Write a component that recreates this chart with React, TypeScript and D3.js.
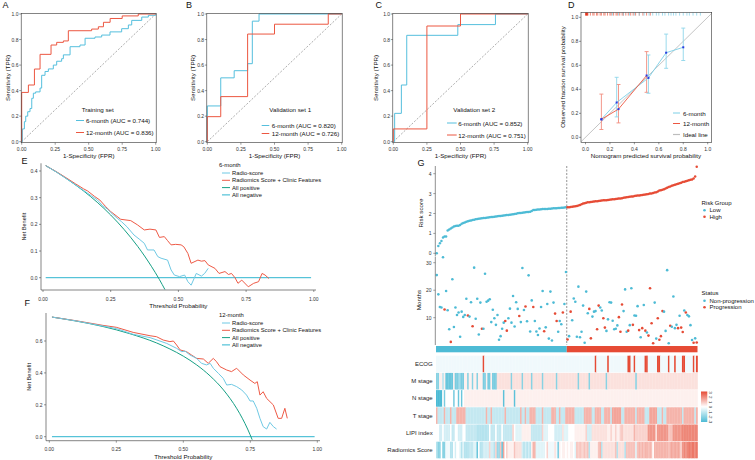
import React from "react";
import * as d3 from "d3";

const FONT = "'Liberation Sans', Arial, Helvetica, sans-serif";
const BLUE = "#4DBBD5";
const RED = "#E64B35";
const ROC6 = "#55BFDD";
const ROC12 = "#EC5741";

// ---------------- ROC data (FPR, TPR), step-after corners ----------------
const rocTicksX = [0, 0.25, 0.5, 0.75, 1];
const rocTicksY = [0, 0.2, 0.4, 0.6, 0.8, 1];

const rocTrain6 = [[0,0],[0.005,0.1],[0.02,0.157],[0.03,0.2],[0.045,0.235],[0.062,0.26],[0.075,0.34],[0.087,0.38],[0.104,0.39],[0.137,0.42],[0.149,0.52],[0.174,0.55],[0.199,0.57],[0.236,0.6],[0.261,0.63],[0.298,0.65],[0.311,0.68],[0.361,0.744],[0.435,0.757],[0.473,0.81],[0.547,0.82],[0.597,0.835],[0.659,0.86],[0.746,0.885],[0.796,0.914],[0.821,0.95],[0.896,0.976],[0.945,0.99],[1,1]];
const rocTrain12 = [[0,0],[0,0.386],[0.05,0.444],[0.095,0.569],[0.137,0.684],[0.219,0.757],[0.261,0.778],[0.311,0.789],[0.348,0.869],[0.522,0.882],[0.572,0.9],[0.61,0.935],[0.66,0.965],[0.75,0.985],[0.87,1],[1,1]];
const rocVal1_6 = [[0,0],[0,0.28],[0.1,0.5],[0.2,0.556],[0.3,0.611],[0.335,0.944],[0.385,1],[1,1]];
const rocVal1_12 = [[0,0],[0,0.196],[0.1,0.353],[0.3,0.843],[0.5,0.92],[0.9,1],[1,1]];
const rocVal2_6 = [[0,0],[0.01,0.222],[0.06,0.444],[0.1,0.833],[0.48,0.917],[0.76,1],[1,1]];
const rocVal2_12 = [[0,0],[0,0.1],[0.25,0.906],[0.5,1],[1,1]];

const rocSetNames = ["Training set", "Validation set 1", "Validation set 2"];
const auc6 = ["0.744", "0.820", "0.852"];
const auc12 = ["0.836", "0.726", "0.751"];

// ---------------- Calibration ----------------
const calTicks = [0, 0.2, 0.4, 0.6, 0.8, 1];
const cal6Pred = [0.13, 0.255, 0.515, 0.66, 0.80];
const cal6Obs = [0.15, 0.29, 0.495, 0.705, 0.75];
const cal6Lo = [NaN, 0.17, 0.367, 0.575, 0.64];
const cal6Hi = [NaN, 0.50, 0.686, 0.86, 0.91];
const cal12Pred = [0.13, 0.27, 0.50];
const cal12Obs = [0.15, 0.235, 0.515];
const cal12Lo = [0.065, 0.12, 0.375];
const cal12Hi = [0.36, 0.44, 0.714];
const rug12 = [0.0,0.005,0.01,0.015,0.02,0.04,0.06,0.07,0.09,0.1,0.12,0.13,0.15,0.16,0.18,0.2,0.21,0.23,0.25,0.26,0.28,0.3,0.31,0.33,0.35,0.37,0.39,0.41,0.44,0.47,0.5,0.53];
const rug6 = [0.22,0.27,0.31,0.36,0.4,0.44,0.48,0.52,0.55,0.58,0.6,0.63,0.65,0.68,0.7,0.72,0.74,0.77,0.8,0.83,0.85,0.88,0.91,0.94];

// ---------------- DCA ----------------
const dcaTicksX = [0, 0.25, 0.5, 0.75, 1];
const dcaE_ticksY = [0, 0.1, 0.2, 0.3, 0.4];
const dcaF_ticksY = [0, 0.2, 0.4, 0.6];
const dcaLegend = ["Radio-score", "Radiomics Score + Clinic Features", "All positive", "All negative"];

const eRadio = [[0.01,0.420],[0.05,0.396],[0.1,0.362],[0.15,0.327],[0.18,0.306],[0.2,0.292],[0.22,0.27],[0.237,0.258],[0.255,0.24],[0.274,0.223],[0.29,0.21],[0.31,0.191],[0.336,0.16],[0.355,0.145],[0.374,0.129],[0.386,0.104],[0.41,0.104],[0.424,0.079],[0.436,0.073],[0.46,0.066],[0.473,0.029],[0.485,0.01],[0.504,0.004],[0.523,0.01],[0.535,-0.015],[0.547,-0.028],[0.558,-0.003],[0.566,0.016],[0.585,0.006],[0.597,0.016],[0.61,0.035]];
const eCombined = [[0.01,0.420],[0.05,0.397],[0.08,0.378],[0.12,0.352],[0.15,0.333],[0.165,0.325],[0.19,0.305],[0.21,0.291],[0.23,0.268],[0.25,0.248],[0.287,0.219],[0.324,0.214],[0.349,0.198],[0.374,0.179],[0.395,0.182],[0.417,0.179],[0.43,0.151],[0.448,0.154],[0.46,0.139],[0.473,0.123],[0.49,0.125],[0.51,0.123],[0.52,0.116],[0.535,0.091],[0.547,0.054],[0.572,0.066],[0.585,0.062],[0.598,0.064],[0.61,0.048],[0.635,0.035],[0.65,0.016],[0.672,0.023],[0.685,0.012],[0.696,0.016],[0.709,0.0],[0.72,-0.021],[0.734,-0.009],[0.758,-0.034],[0.778,-0.021],[0.796,-0.015],[0.809,0.016],[0.82,0.01],[0.834,-0.003]];
const eAllPos = [[0.01,0.420],[0.05,0.396],[0.1,0.362],[0.15,0.325],[0.2,0.283],[0.25,0.235],[0.3,0.180],[0.35,0.117],[0.4,0.043],[0.43,-0.007],[0.45,-0.044]];
const eAllNeg = [[0.01,0],[0.99,0]];

const fRadio = [[0.01,0.750],[0.1,0.726],[0.2,0.694],[0.25,0.678],[0.313,0.642],[0.376,0.621],[0.438,0.585],[0.475,0.554],[0.494,0.533],[0.506,0.537],[0.525,0.512],[0.55,0.491],[0.568,0.46],[0.587,0.45],[0.6,0.46],[0.612,0.429],[0.631,0.397],[0.649,0.366],[0.662,0.324],[0.68,0.328],[0.699,0.314],[0.718,0.293],[0.736,0.261],[0.749,0.224],[0.761,0.224],[0.774,0.178],[0.786,0.115],[0.798,0.063],[0.811,0.048],[0.823,0.09],[0.836,0.063],[0.848,0.048]];
const fCombined = [[0.01,0.750],[0.1,0.727],[0.2,0.698],[0.25,0.686],[0.313,0.654],[0.376,0.633],[0.4,0.627],[0.425,0.606],[0.45,0.596],[0.463,0.6],[0.475,0.575],[0.488,0.544],[0.512,0.533],[0.531,0.512],[0.55,0.491],[0.575,0.487],[0.593,0.46],[0.612,0.491],[0.624,0.47],[0.637,0.439],[0.662,0.418],[0.68,0.408],[0.699,0.429],[0.724,0.387],[0.749,0.355],[0.767,0.334],[0.776,0.345],[0.786,0.261],[0.798,0.282],[0.811,0.24],[0.836,0.199],[0.854,0.115],[0.867,0.115],[0.879,0.178],[0.888,0.115]];
const fAllPos = [[0.01,0.750],[0.1,0.725],[0.2,0.691],[0.3,0.646],[0.4,0.588],[0.45,0.550],[0.5,0.505],[0.55,0.450],[0.6,0.381],[0.65,0.293],[0.7,0.175],[0.72,0.116],[0.74,0.048],[0.757,-0.019]];
const fAllNeg = [[0.01,0],[0.99,0]];

// ---------------- Risk panel G ----------------
const riskLow = [
  0.00,0.37,0.50,0.62,0.80,0.84,0.85,1.15,1.20,1.25,
  1.30,1.35,1.37,1.38,1.39,1.42,1.48,1.52,1.55,1.58,
  1.61,1.63,1.65,1.67,1.69,1.71,1.72,1.73,1.75,1.76,
  1.77,1.78,1.79,1.80,1.81,1.82,1.83,1.84,1.85,1.86,
  1.87,1.88,1.89,1.90,1.91,1.92,1.93,1.94,1.95,1.96,
  1.97,1.99,2.01,2.02,2.03,2.04,2.05,2.06,2.07,2.08,
  2.09,2.12,2.17,2.18,2.19,2.20,2.20,2.21,2.22,2.22,
  2.23,2.23,2.24,2.24,2.25,2.26,2.27,2.27,2.28,2.28,
  2.29,2.29,2.30,2.31];
const riskHigh = [
  2.31,2.32,2.33,2.34,2.35,2.36,2.38,2.40,2.43,2.47,
  2.50,2.52,2.54,2.56,2.57,2.58,2.59,2.60,2.61,2.62,
  2.63,2.64,2.65,2.66,2.66,2.67,2.68,2.69,2.70,2.71,
  2.72,2.73,2.74,2.75,2.76,2.77,2.79,2.81,2.82,2.83,
  2.84,2.85,2.86,2.88,2.89,2.90,2.91,2.92,2.93,2.94,
  2.95,2.97,2.98,3.00,3.01,3.03,3.05,3.07,3.10,3.15,
  3.17,3.19,3.22,3.26,3.30,3.33,3.36,3.39,3.42,3.44,
  3.47,3.50,3.52,3.55,3.58,3.60,3.62,3.64,3.67,3.69,
  3.71,3.76,3.86,4.35];
const monthsLow = [
  25.5,18.5,13.9,13.7,32.0,13.0,19.7,12.7,5.8,1.2,
  24.0,6.6,13.7,11.0,11.9,3.1,12.2,10.3,11.0,16.9,
  10.8,10.4,15.6,6.9,28.2,9.6,16.9,3.9,15.5,6.0,
  6.0,26.0,15.8,16.2,16.7,8.4,12.9,9.8,7.4,11.0,
  2.0,3.3,6.0,8.2,8.8,5.3,9.8,13.3,8.2,17.9,
  6.8,15.6,13.2,10.6,8.4,28.1,12.8,14.1,8.7,25.4,
  5.0,16.3,13.9,8.8,5.0,3.7,6.1,13.9,19.7,5.1,
  6.5,15.0,2.4,19.5,1.7,15.5,11.5,8.8,4.9,8.8,
  7.6,11.9,15.0,26.6];
const statusLow = "nnnnnpnnnp nnnnnnnnnn pnnpnnnnnp nnnnnnnnnn nnnnppnnnn nnnpnnnpnn nnpnnnnnnp nnnnnnppnn npnn";
const monthsHigh = [
  2.1,3.3,12.2,9.1,17.0,15.8,3.1,21.3,2.9,4.9,
  14.4,0.9,19.5,11.6,13.2,2.5,10.4,12.2,12.4,5.8,
  14.4,13.7,12.6,9.8,6.4,5.2,9.4,15.6,15.5,8.9,
  5.8,6.0,7.2,10.2,4.9,14.8,12.4,20.3,4.9,5.3,
  7.3,20.7,7.4,10.8,10.7,14.2,5.5,2.9,6.2,14.6,
  5.3,4.6,3.5,20.7,8.0,0.7,15.5,2.4,9.8,2.0,
  3.3,12.4,12.2,5.2,27.3,0.7,7.1,6.7,17.7,6.2,
  7.4,6.2,10.7,6.4,4.8,12.6,11.9,11.0,10.5,7.3,
  1.9,0.9,2.5,1.0];
const statusHigh = "pnpnnnnnnn nnnnppnnnp pnnppnnnnn nnnpppnnnp nnpnnnpnpn pnppppnnpp ppnnnnpnnn npnppnpnnn npnp";
const riskTicks = [0, 1, 2, 3, 4];
const monthTicks = [10, 20, 30];

// Heatmap: letters a..y encode -3..3 in steps of 0.25 (m = 0)
const heatNames = ["ECOG", "M stage", "N stage", "T stage", "LIPI index", "Radiomics Score"];
const heatECOG = "llllllllll llllllllll llllllllll ylllllllll llllllllll llllllllll llllllllll llllllllll llllllllll llllllllll llylllllll ylllllllll lllyyllyll llllyyllll llyyllllly lllyllllyy lllllyly";
const heatM = "eennhncccc cnddffddnn ennennennn ddnddndddo ooooooooeo oooooeoooo oeooooooeo oooooooeoo oooooooooo oeooooooeo oooooooooe oooooooooo ooooooooeo oooooooooo oooooooooo oooooooooo oooooooo";
const heatN = "aaaamdmmmm mdmmcmcmnn nnnnnnnnnn nnnnnnnnnn nnnbnnnnnn bnnnnnnnnn nnnnnnnnnn nnnnnnnnnn nnnnnnnnnn nnnnnnnnnn nnnnnnnnnn nnnnnnnnnn nnnnnnnnnn nnnnnnnnnn nnnnnnnnnn nnnnnnnnnn nnnnnnnn";
const heatT = "riiiiriiir iiirrrrrri iiiiiiiiii iiriiriiii iiiiriiiii iiiiriirii rrrriiiiri iiiirrriir iiirrrrrri iiiiirrrrr iirrrriirr rrissssssi irrrrrrrir rrrriiisss ssiiiriirr rrrrrrrrir rrrrrrir";
const heatLIPI = "mmjjmjjjjm iimmjjjmmi iiiiiihhhh hhhhmiiimi iimiiiiiip mkkkknnnnn niiiiiiipk kkmmmmjjjj jokkkmmmmn nnnnnnpjjj oooooooooo nnpnnpnnpq ooooooorpp pppppptttt totttttttq qqttttttuu uuuuuuuu";
const heatRad = "heemeelllh hmjmmkhkhh hiiikkcmhh jjjjpjjhpf fqcsmpnnnn qoooojhjhj hnrrkkkkkk mplllloldn mnnmnmnnmk qpqppqpqhn nnnnqrhooo oooooqhooo ohqqqqqqkq rqrqrrqrqm rrrrrrrrrq rsrsrsrptu tuvuvvuv";
const colorbarLabels = [3, 2, 1, 0, -1, -2, -3];

const decode = (s: string) => s.replace(/\s/g, "").split("").map((c) => (c.charCodeAt(0) - 109) * 0.25);

// ---------------- helpers ----------------
const TICK = 5;
const TITLE = 6.2;

function RocPanel({ cfg, c6, c12, idx }: any) {
  const x = d3.scaleLinear().domain([0, 1]).range([cfg.x0, cfg.x1]);
  const y = d3.scaleLinear().domain([0, 1]).range([141.7, 14]);
  const line = d3.line<number[]>().x((d) => x(d[0])).y((d) => y(d[1])).curve(d3.curveStepAfter);
  return (
    <g>
      <line x1={x(0)} y1={y(0)} x2={x(1)} y2={y(1)} stroke="#888" strokeWidth={0.7} strokeDasharray="2,1.6" />
      <path d={line(c6) || ""} fill="none" stroke={ROC6} strokeWidth={1} />
      <path d={line(c12) || ""} fill="none" stroke={ROC12} strokeWidth={1} />
      <rect x={x(0) - 0.5} y={13.3} width={x(1) - x(0) + 1} height={129.4} fill="none" stroke="#333" strokeWidth={0.6} />
      {rocTicksX.map((t) => (
        <g key={"x" + t}>
          <line x1={x(t)} x2={x(t)} y1={142.7} y2={144.7} stroke="#333" strokeWidth={0.5} />
          <text x={x(t)} y={148.5} fontSize={TICK} textAnchor="middle" dominantBaseline="central" fill="#333">{d3.format(".2f")(t)}</text>
        </g>
      ))}
      {rocTicksY.map((t) => (
        <g key={"y" + t}>
          <line x1={x(0) - 2.5} x2={x(0) - 0.5} y1={y(t)} y2={y(t)} stroke="#333" strokeWidth={0.5} />
          <text x={x(0) - 3.2} y={y(t)} fontSize={TICK} textAnchor="end" dominantBaseline="central" fill="#333">{d3.format(".1f")(t)}</text>
        </g>
      ))}
      <text x={(x(0) + x(1)) / 2} y={155.2} fontSize={TITLE} textAnchor="middle" dominantBaseline="central" fill="#111">1-Specificity (FPR)</text>
      <text transform={`translate(${cfg.yTitleX},78) rotate(-90)`} fontSize={TITLE} textAnchor="middle" dominantBaseline="central" fill="#111">Sensitivity (TPR)</text>
      <text x={cfg.letterX} y={4.5} fontSize={9} dominantBaseline="central" fill="#111">{cfg.letter}</text>
      <text x={cfg.titleX} y={cfg.titleY} fontSize={TITLE} dominantBaseline="central" fill="#111">{rocSetNames[idx]}</text>
      <line x1={cfg.lx0} x2={cfg.lx1} y1={cfg.r1} y2={cfg.r1} stroke={ROC6} strokeWidth={1} />
      <text x={cfg.tx} y={cfg.r1} fontSize={TITLE} dominantBaseline="central" fill="#111">{`6-month (AUC = ${auc6[idx]})`}</text>
      <line x1={cfg.lx0} x2={cfg.lx1} y1={cfg.r2} y2={cfg.r2} stroke={ROC12} strokeWidth={1} />
      <text x={cfg.tx} y={cfg.r2} fontSize={TITLE} dominantBaseline="central" fill="#111">{`12-month (AUC = ${auc12[idx]})`}</text>
    </g>
  );
}

function CalPanel() {
  const x = d3.scaleLinear().domain([0, 1]).range([585.5, 707.7]);
  const y = d3.scaleLinear().domain([0, 1]).range([137.3, 17.3]);
  const lo = x.invert(581), hi = x.invert(711.7);
  const line = d3.line<number>().x((d) => d);
  const path6 = d3.line<number>().x((_, i) => x(cal6Pred[i])).y((_, i) => y(cal6Obs[i]))(cal6Pred) || "";
  const path12 = d3.line<number>().x((_, i) => x(cal12Pred[i])).y((_, i) => y(cal12Obs[i]))(cal12Pred) || "";
  void line;
  const bars = (pred: number[], l: number[], h: number[], col: string, k: string) =>
    pred.map((p, i) =>
      isNaN(l[i]) ? null : (
        <g key={k + i} stroke={col} strokeWidth={0.9}>
          <line x1={x(p)} x2={x(p)} y1={y(l[i])} y2={y(h[i])} />
          <line x1={x(p) - 2} x2={x(p) + 2} y1={y(l[i])} y2={y(l[i])} />
          <line x1={x(p) - 2} x2={x(p) + 2} y1={y(h[i])} y2={y(h[i])} />
        </g>
      )
    );
  return (
    <g>
      <line x1={x(lo)} y1={y(lo)} x2={x(hi)} y2={y(hi)} stroke="#BDBDBD" strokeWidth={0.9} />
      {bars(cal12Pred, cal12Lo, cal12Hi, "#F28C7E", "r")}
      {bars(cal6Pred, cal6Lo, cal6Hi, "#8ED6EA", "b")}
      <path d={path6} fill="none" stroke="#7CCFE6" strokeWidth={0.9} />
      <path d={path12} fill="none" stroke="#EC5741" strokeWidth={0.9} />
      {cal6Pred.map((p, i) => <rect key={"p6" + i} x={x(p) - 1} y={y(cal6Obs[i]) - 1} width={2} height={2} fill="#2A3BE0" />)}
      {cal12Pred.map((p, i) => <rect key={"p12" + i} x={x(p) - 1} y={y(cal12Obs[i]) - 1} width={2} height={2} fill="#2A3BE0" />)}
      {rug12.map((r, i) => <line key={"ru" + i} x1={x(r)} x2={x(r)} y1={12.6} y2={15.6} stroke="#EC5741" strokeWidth={0.7} />)}
      <rect x={x(0)} y={12.8} width={2.2} height={2.6} fill="#E3341F" />
      {rug6.map((r, i) => <line key={"rb" + i} x1={x(r)} x2={x(r)} y1={12.6} y2={15.6} stroke="#7CCFE6" strokeWidth={0.7} />)}
      <rect x={581} y={12.3} width={130.7} height={130} fill="none" stroke="#333" strokeWidth={0.6} />
      {calTicks.map((t) => (
        <g key={"cx" + t}>
          <line x1={x(t)} x2={x(t)} y1={142.3} y2={144.3} stroke="#333" strokeWidth={0.5} />
          <text x={x(t)} y={148.5} fontSize={TICK} textAnchor="middle" dominantBaseline="central" fill="#333">{d3.format(".1f")(t)}</text>
          <line x1={579} x2={581} y1={y(t)} y2={y(t)} stroke="#333" strokeWidth={0.5} />
          <text x={578.3} y={y(t)} fontSize={TICK} textAnchor="end" dominantBaseline="central" fill="#333">{d3.format(".1f")(t)}</text>
        </g>
      ))}
      <text x={646} y={155.2} fontSize={TITLE} textAnchor="middle" dominantBaseline="central" fill="#111">Nomogram predicted survival probability</text>
      <text transform="translate(562.5,77) rotate(-90)" fontSize={TITLE} textAnchor="middle" dominantBaseline="central" fill="#111">Observed fraction survival probability</text>
      <text x={568} y={4.5} fontSize={9} dominantBaseline="central" fill="#111">D</text>
      <line x1={673} x2={680} y1={113} y2={113} stroke="#7CCFE6" strokeWidth={1} />
      <text x={683} y={113} fontSize={TITLE} dominantBaseline="central" fill="#111">6-month</text>
      <line x1={673} x2={680} y1={123.5} y2={123.5} stroke="#EC5741" strokeWidth={1} />
      <text x={683} y={123.5} fontSize={TITLE} dominantBaseline="central" fill="#111">12-month</text>
      <line x1={673} x2={680} y1={134.5} y2={134.5} stroke="#BDBDBD" strokeWidth={1.2} />
      <text x={683} y={134.5} fontSize={TITLE} dominantBaseline="central" fill="#111">Ideal line</text>
    </g>
  );
}

function DcaPanel({ cfg, radio, comb, pos, neg, ticksY, title, letter }: any) {
  const x = d3.scaleLinear().domain([0, 1]).range([cfg.x0, cfg.x1]);
  const y = d3.scaleLinear().domain([0, cfg.yMaxTick]).range([cfg.y0, cfg.yTop]);
  const lin = d3.line<number[]>().x((d) => x(d[0])).y((d) => y(d[1]));
  const smooth = d3.line<number[]>().x((d) => x(d[0])).y((d) => y(d[1])).curve(d3.curveMonotoneX);
  const cols = ["#6FC9E4", "#EE5A46", "#16A085", "#2FB5CF"];
  return (
    <g>
      <path d={lin(neg) || ""} fill="none" stroke={cols[3]} strokeWidth={1} />
      <path d={smooth(pos) || ""} fill="none" stroke={cols[2]} strokeWidth={1} />
      <path d={lin(comb) || ""} fill="none" stroke={cols[1]} strokeWidth={1} />
      <path d={lin(radio) || ""} fill="none" stroke={cols[0]} strokeWidth={1} />
      <line x1={cfg.axX} x2={cfg.axX} y1={cfg.axTop} y2={cfg.axBottom} stroke="#333" strokeWidth={0.6} />
      <line x1={cfg.axX} x2={cfg.axRight} y1={cfg.axBottom} y2={cfg.axBottom} stroke="#333" strokeWidth={0.6} />
      {dcaTicksX.map((t) => (
        <g key={"x" + t}>
          <line x1={x(t)} x2={x(t)} y1={cfg.axBottom} y2={cfg.axBottom + 2} stroke="#333" strokeWidth={0.5} />
          <text x={x(t)} y={cfg.tickLabelY} fontSize={TICK} textAnchor="middle" dominantBaseline="central" fill="#333">{d3.format(".2f")(t)}</text>
        </g>
      ))}
      {ticksY.map((t: number) => (
        <g key={"y" + t}>
          <line x1={cfg.axX - 2} x2={cfg.axX} y1={y(t)} y2={y(t)} stroke="#333" strokeWidth={0.5} />
          <text x={cfg.axX - 3.5} y={y(t)} fontSize={TICK} textAnchor="end" dominantBaseline="central" fill="#333">{d3.format(".1f")(t)}</text>
        </g>
      ))}
      <text x={(x(0) + x(1)) / 2} y={cfg.titleY} fontSize={TITLE} textAnchor="middle" dominantBaseline="central" fill="#111">Threshold Probability</text>
      <text transform={`translate(${cfg.yTitleX},${(cfg.axTop + cfg.axBottom) / 2}) rotate(-90)`} fontSize={TITLE - 0.6} textAnchor="middle" dominantBaseline="central" fill="#111">Net Benefit</text>
      <text x={cfg.letterX} y={cfg.letterY} fontSize={9} dominantBaseline="central" fill="#111">{letter}</text>
      <text x={219} y={cfg.legY} fontSize={TITLE - 0.3} dominantBaseline="central" fill="#111">{title}</text>
      {dcaLegend.map((lab, i) => (
        <g key={lab}>
          <line x1={222} x2={230} y1={cfg.legY + 8 + i * 7.3} y2={cfg.legY + 8 + i * 7.3} stroke={cols[i]} strokeWidth={1} />
          <text x={232} y={cfg.legY + 8 + i * 7.3} fontSize={TITLE - 0.4} dominantBaseline="central" fill="#111">{lab}</text>
        </g>
      ))}
    </g>
  );
}

function RiskPanel() {
  const risk = riskLow.concat(riskHigh);
  const months = monthsLow.concat(monthsHigh);
  const status = (statusLow + statusHigh).replace(/\s/g, "");
  const n = risk.length;
  const nLow = riskLow.length;
  const xi = d3.scaleLinear().domain([0, n]).range([436, 697.5]);
  const yR = d3.scaleLinear().domain([0, 4]).range([253.3, 173.7]);
  const yM = d3.scaleLinear().domain([0, 30]).range([345.2, 262.7]);
  const heat = [heatECOG, heatM, heatN, heatT, heatLIPI, heatRad].map(decode);
  const col = d3.scaleLinear<string>().domain([-3, 0, 3]).range(["#4DBBD5", "#FFFFFF", "#E64B35"]);
  const xCut = xi(nLow);
  const rowTop = (k: number) => 355.7 + k * 17.2;
  return (
    <g>
      {/* heatmap */}
      {heat.map((row, k) =>
        row.map((v, i) => (
          <rect key={k + "-" + i} x={xi(i)} y={rowTop(k)} width={xi(i + 1) - xi(i) + 0.3} height={16.6} fill={col(v)} />
        ))
      )}
      {heatNames.map((nm, k) => (
        <text key={nm} x={432.7} y={rowTop(k) + 8.3} fontSize={6} textAnchor="end" dominantBaseline="central" fill="#222">{nm}</text>
      ))}
      {/* group bar */}
      <rect x={xi(0)} y={346} width={xCut - xi(0)} height={6.3} fill={BLUE} />
      <rect x={xCut} y={346} width={xi(n) - xCut} height={6.3} fill={RED} />
      {/* colorbar */}
      <defs>
        <linearGradient id="cb" x1="0" y1="0" x2="0" y2="1">
          <stop offset="0%" stopColor="#E64B35" />
          <stop offset="50%" stopColor="#FFFFFF" />
          <stop offset="100%" stopColor="#4DBBD5" />
        </linearGradient>
      </defs>
      <rect x={701} y={391.5} width={6.3} height={30.5} fill="url(#cb)" />
      {colorbarLabels.map((v, i) => (
        <text key={"cb" + v} transform={`translate(710.8,${392.5 + i * 4.8}) rotate(90)`} fontSize={4.3} textAnchor="middle" dominantBaseline="central" fill="#333">{v}</text>
      ))}
      {/* dashed separator */}
      <line x1={xCut} x2={xCut} y1={166} y2={345} stroke="#777" strokeWidth={0.8} strokeDasharray="2,1.5" />
      {/* risk points */}
      {risk.map((r, i) => (
        <circle key={"r" + i} cx={xi(i + 0.5)} cy={yR(r)} r={1.25} fill={i < nLow ? BLUE : RED} />
      ))}
      {/* months points */}
      {months.map((m, i) => (
        <circle key={"m" + i} cx={xi(i + 0.5)} cy={yM(m)} r={1.3} fill={status[i] === "p" ? RED : BLUE} />
      ))}
      {/* axes */}
      <line x1={435.3} x2={435.3} y1={166} y2={256} stroke="#444" strokeWidth={0.6} />
      <line x1={435.3} x2={435.3} y1={256.5} y2={345} stroke="#444" strokeWidth={0.6} />
      {riskTicks.map((t) => (
        <g key={"rt" + t}>
          <line x1={433.3} x2={435.3} y1={yR(t)} y2={yR(t)} stroke="#444" strokeWidth={0.5} />
          <text x={431.5} y={yR(t)} fontSize={TICK} textAnchor="end" dominantBaseline="central" fill="#333">{t}</text>
        </g>
      ))}
      {monthTicks.map((t) => (
        <g key={"mt" + t}>
          <line x1={433.3} x2={435.3} y1={yM(t)} y2={yM(t)} stroke="#444" strokeWidth={0.5} />
          <text x={431.5} y={yM(t)} fontSize={TICK} textAnchor="end" dominantBaseline="central" fill="#333">{t}</text>
        </g>
      ))}
      <text transform="translate(420,213) rotate(-90)" fontSize={TITLE} textAnchor="middle" dominantBaseline="central" fill="#111">Risk score</text>
      <text transform="translate(418,300) rotate(-90)" fontSize={TITLE} textAnchor="middle" dominantBaseline="central" fill="#111">Months</text>
      <text x={417.5} y={162.5} fontSize={9} dominantBaseline="central" fill="#111">G</text>
      {/* legends */}
      <text x={701.5} y={203.3} fontSize={6} dominantBaseline="central" fill="#111">Risk Group</text>
      <circle cx={704.5} cy={210.3} r={1.3} fill={BLUE} />
      <text x={709.5} y={210.3} fontSize={6} dominantBaseline="central" fill="#111">Low</text>
      <circle cx={704.5} cy={216.8} r={1.3} fill={RED} />
      <text x={709.5} y={216.8} fontSize={6} dominantBaseline="central" fill="#111">High</text>
      <text x={701.5} y={293.3} fontSize={6} dominantBaseline="central" fill="#111">Status</text>
      <circle cx={704.5} cy={300.8} r={1.3} fill={BLUE} />
      <text x={709.5} y={300.8} fontSize={6} dominantBaseline="central" fill="#111">Non-progression</text>
      <circle cx={704.5} cy={307.3} r={1.3} fill={RED} />
      <text x={709.5} y={307.3} fontSize={6} dominantBaseline="central" fill="#111">Progression</text>
    </g>
  );
}

const rocCfg = [
  { x0: 21.7, x1: 155.7, letter: "A", letterX: 2.5, yTitleX: 7, titleX: 81.7, titleY: 109.5, lx0: 76, lx1: 84, tx: 86, r1: 120.5, r2: 132.5 },
  { x0: 207.3, x1: 341.7, letter: "B", letterX: 186, yTitleX: 192.7, titleX: 269.3, titleY: 109.5, lx0: 261.7, lx1: 269.3, tx: 271.7, r1: 125.5, r2: 133.5 },
  { x0: 393.3, x1: 527.7, letter: "C", letterX: 375.5, yTitleX: 375.5, titleX: 453.3, titleY: 109.5, lx0: 447, lx1: 456.7, tx: 458.3, r1: 123, r2: 135 },
];

const eCfg = { x0: 43, x1: 313.8, y0: 277.7, yTop: 171, yMaxTick: 0.4, axX: 41, axTop: 163.3, axBottom: 290, axRight: 316, tickLabelY: 298.5, titleY: 305.5, yTitleX: 24, letterX: 21.5, letterY: 160.5, legY: 165 };
const fCfg = { x0: 49.3, x1: 317.3, y0: 436.7, yTop: 341, yMaxTick: 0.6, axX: 46, axTop: 313, axBottom: 440.7, axRight: 320, tickLabelY: 449.3, titleY: 456.3, yTitleX: 29, letterX: 24.5, letterY: 302.5, legY: 315 };

export default function App() {
  return (
    <svg width={755} height={460} style={{ position: "absolute", left: 0, top: 0, background: "#fff" }} fontFamily={FONT}>
      <rect x={0} y={0} width={755} height={460} fill="#fff" />
      <RocPanel cfg={rocCfg[0]} c6={rocTrain6} c12={rocTrain12} idx={0} />
      <RocPanel cfg={rocCfg[1]} c6={rocVal1_6} c12={rocVal1_12} idx={1} />
      <RocPanel cfg={rocCfg[2]} c6={rocVal2_6} c12={rocVal2_12} idx={2} />
      <CalPanel />
      <DcaPanel cfg={eCfg} radio={eRadio} comb={eCombined} pos={eAllPos} neg={eAllNeg} ticksY={dcaE_ticksY} title="6-month" letter="E" />
      <DcaPanel cfg={fCfg} radio={fRadio} comb={fCombined} pos={fAllPos} neg={fAllNeg} ticksY={dcaF_ticksY} title="12-month" letter="F" />
      <RiskPanel />
    </svg>
  );
}
